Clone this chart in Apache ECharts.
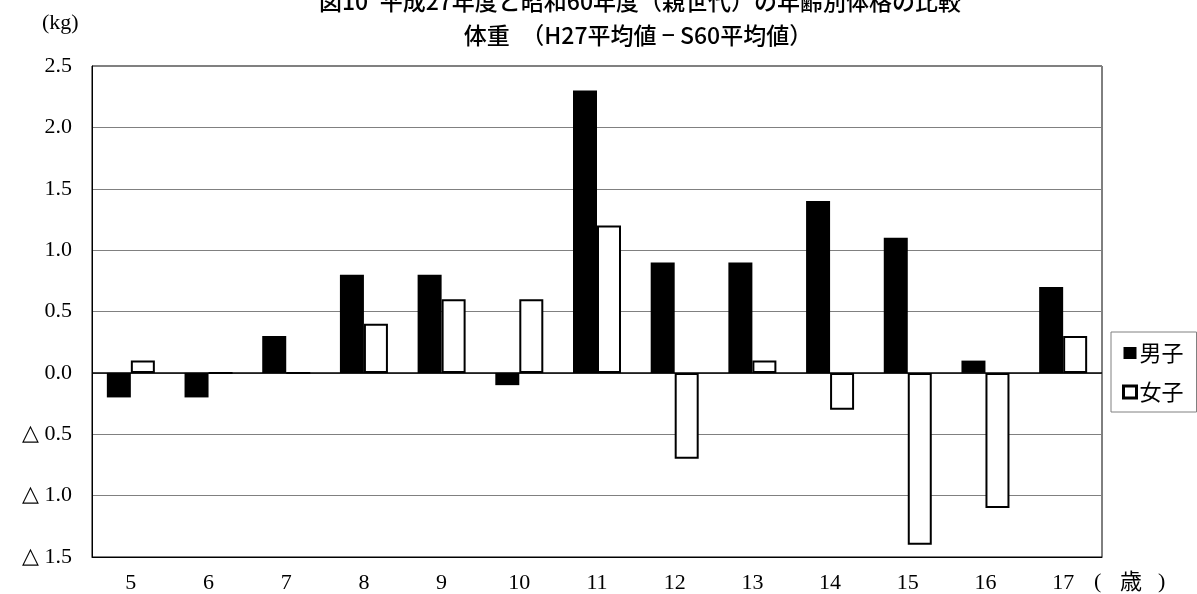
<!DOCTYPE html>
<html>
<head>
<meta charset="utf-8">
<script src="https://cdn.jsdelivr.net/npm/echarts@6/dist/echarts.min.js"></script>
<style>
html,body{margin:0;padding:0;background:#fff;}
#chart{width:1197px;height:594px;}
</style>
</head>
<body>
<div id="chart"></div>
<script>
const categories = ['5','6','7','8','9','10','11','12','13','14','15','16','17'];
const maleValues = [-0.2, -0.2, 0.3, 0.8, 0.8, -0.1, 2.3, 0.9, 0.9, 1.4, 1.1, 0.1, 0.7];
const femaleValues = [0.1, 0, 0, 0.4, 0.6, 0.6, 1.2, -0.7, 0.1, -0.3, -1.4, -1.1, 0.3];
const seriesNames = ['男子', '女子'];
const titleLine1 = '図10\u2002平成27年度と昭和60年度（親世代）の年齢別体格の比較';
const titleLine2 = '体重　（H27平均値 − S60平均値）';

const serif = 'Liberation Serif';
const cjk = 'Noto Sans CJK JP';

const chart = echarts.init(document.getElementById('chart'));
chart.setOption({
  backgroundColor: '#fff',
  animation: false,
  graphic: [
    {type: 'text', x: 640, y: 1, style: {text: titleLine1, textAlign: 'center', textVerticalAlign: 'middle', font: '500 23px "Noto Sans CJK JP"', fill: '#000'}},
    {type: 'text', x: 638, y: 35, style: {text: titleLine2, textAlign: 'center', textVerticalAlign: 'middle', font: '500 23px "Noto Sans CJK JP"', fill: '#000'}},
    {type: 'text', left: 42, top: 12, style: {text: '(kg)', font: '22px "Liberation Serif"', fill: '#000'}},
    {type: 'text', left: 1094, top: 571, style: {text: '(', font: '22px "Liberation Serif"', fill: '#000'}},
    {type: 'text', left: 1120, top: 570, style: {text: '歳', font: '22px "Noto Sans CJK JP"', fill: '#000'}},
    {type: 'text', left: 1158, top: 571, style: {text: ')', font: '22px "Liberation Serif"', fill: '#000'}}
  ],
  legend: {
    orient: 'vertical',
    left: 1111,
    top: 332,
    padding: [10, 13, 9, 11],
    itemGap: 17,
    itemWidth: 13,
    itemHeight: 12,
    borderColor: '#808080',
    borderWidth: 1,
    textStyle: {fontFamily: cjk, fontSize: 22, color: '#000', padding: [0, 0, 0, -2]},
    data: [
      {name: seriesNames[0], icon: 'rect', itemStyle: {color: '#000', borderWidth: 0}},
      {name: seriesNames[1], icon: 'rect', itemStyle: {color: '#fff', borderColor: '#000', borderWidth: 3}}
    ]
  },
  grid: {left: 92, right: 95, top: 66, bottom: 37, show: true, borderColor: '#000', borderWidth: 1, backgroundColor: 'transparent'},
  xAxis: {
    type: 'category',
    data: categories,
    axisLine: {show: true, onZero: false, lineStyle: {color: '#000'}},
    axisTick: {show: false},
    axisLabel: {fontFamily: serif, fontSize: 22, color: '#000', margin: 15}
  },
  yAxis: {
    type: 'value',
    min: -1.5,
    max: 2.5,
    interval: 0.5,
    axisLine: {show: true, lineStyle: {color: '#000'}},
    axisTick: {show: false},
    splitLine: {show: true, lineStyle: {color: '#808080', width: 1}},
    axisLabel: {
      fontFamily: serif, fontSize: 22, color: '#000', margin: 20,
      formatter: function (v) {
        const a = Math.abs(v).toFixed(1);
        return v < -1e-9 ? '△ ' + a : a;
      }
    }
  },
  series: [
    {
      name: seriesNames[0],
      type: 'bar',
      data: maleValues,
      barWidth: 24,
      barGap: '0%',
      itemStyle: {color: '#000'},
      markLine: {
        silent: true,
        symbol: 'none',
        label: {show: false},
        lineStyle: {color: '#000', type: 'solid', width: 1.5},
        data: [{yAxis: 0}]
      }
    },
    {
      name: seriesNames[1],
      type: 'bar',
      data: femaleValues,
      barWidth: 24,
      barGap: '0%',
      itemStyle: {color: '#fff', borderColor: '#000', borderWidth: 2}
    }
  ]
});
</script>
</body>
</html>
